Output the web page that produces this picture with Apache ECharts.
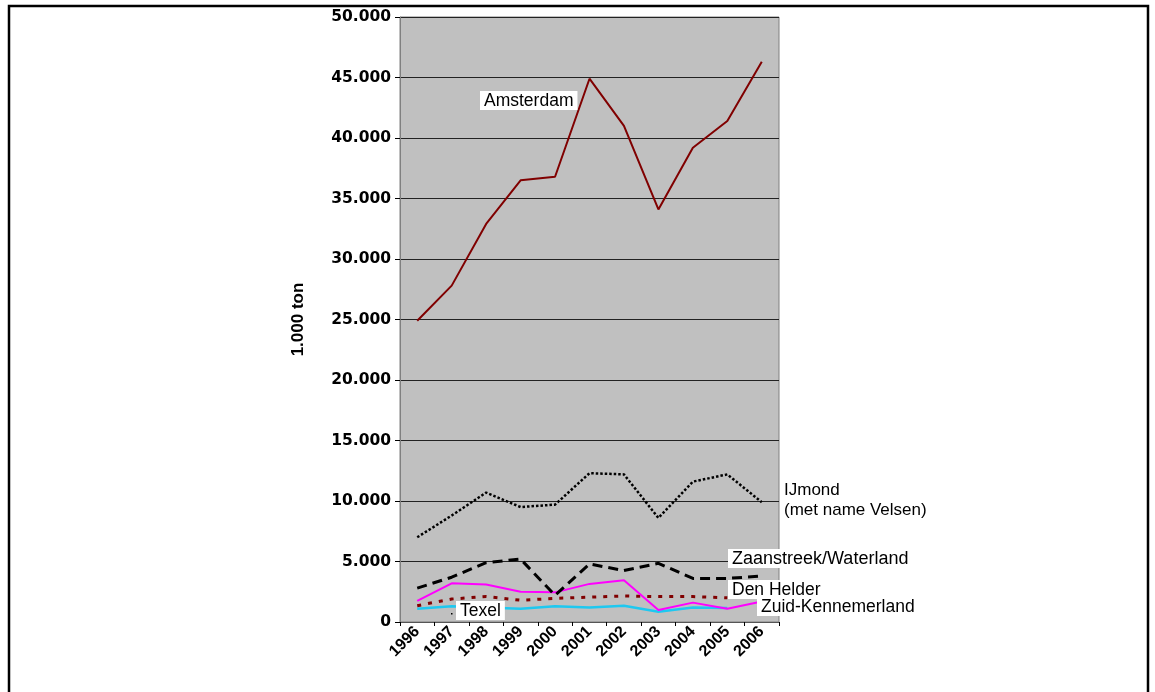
<!DOCTYPE html>
<html>
<head>
<meta charset="utf-8">
<script src="https://cdn.jsdelivr.net/npm/echarts@6/dist/echarts.min.js"></script>
<style>
  html, body { margin: 0; padding: 0; background: #fff; }
  #chart { width: 1155px; height: 692px; }
</style>
</head>
<body>
<div id="chart"></div>
<script>
// Overslag per haven, 1.000 ton
const years = ['1996', '1997', '1998', '1999', '2000', '2001', '2002', '2003', '2004', '2005', '2006'];

const amsterdam   = [24900, 27800, 32900, 36500, 36800, 44900, 41000, 34100, 39200, 41400, 46300];
const ijmond      = [7000, 8800, 10700, 9500, 9700, 12300, 12200, 8600, 11600, 12200, 9900];
const zaanstreek  = [2800, 3700, 4900, 5200, 2200, 4800, 4250, 4850, 3600, 3600, 3800];
const denHelder   = [1350, 1900, 2100, 1800, 1950, 2050, 2150, 2100, 2100, 2000, null];
const zuidKennem  = [1750, 3200, 3100, 2500, 2450, 3150, 3450, 1000, 1600, 1100, 1700];
const texel       = [1100, 1300, 1200, 1100, 1300, 1200, 1350, 850, 1200, 1150, null];

const yTicks = { min: 0, max: 50000, step: 5000 };

function fmtThousands(v) {
  return v === 0 ? '0' : String(v).replace(/\B(?=(\d{3})+(?!\d))/g, '.');
}

const chart = echarts.init(document.getElementById('chart'), null, { renderer: 'canvas' });

const labelFont = 'Liberation Sans, Arial, sans-serif';

function boxLabel(text, x, y, size) {
  return {
    type: 'text', left: x, top: y, z: 100,
    style: {
      text: text, fill: '#000', font: (size || 17.5) + 'px ' + labelFont,
      backgroundColor: '#fff', padding: [1, 4, 0, 4]
    }
  };
}

chart.setOption({
  animation: false,
  backgroundColor: '#fff',
  grid: {
    left: 400, right: 376, top: 17, bottom: 70,
    show: true, backgroundColor: '#c0c0c0', borderColor: '#808080', borderWidth: 1
  },
  xAxis: {
    type: 'category',
    data: years,
    boundaryGap: true,
    axisLine: { lineStyle: { color: '#555', width: 1 } },
    axisTick: { show: true, interval: 0, length: 4, lineStyle: { color: '#000' } },
    axisLabel: {
      interval: 0, rotate: 45, margin: 7,
      fontFamily: labelFont, fontWeight: 'bold', fontSize: 16, color: '#000'
    }
  },
  yAxis: {
    type: 'value',
    min: yTicks.min, max: yTicks.max, interval: yTicks.step,
    name: '1.000 ton',
    nameLocation: 'middle',
    nameGap: 93,
    nameRotate: 90,
    nameTextStyle: { fontFamily: labelFont, fontWeight: 'bold', fontSize: 17, color: '#000' },
    axisLine: { show: true, lineStyle: { color: '#808080', width: 1 } },
    axisTick: { show: true, length: 5, lineStyle: { color: '#000' } },
    axisLabel: {
      formatter: fmtThousands, margin: 9,
      fontFamily: 'DejaVu Sans, sans-serif', fontWeight: 'bold', fontSize: 15.5, color: '#000'
    },
    splitLine: { show: true, lineStyle: { color: '#222', width: 1 } }
  },
  series: [
    { name: 'Texel', type: 'line', data: texel, symbol: 'none',
      lineStyle: { color: '#1ec8f0', width: 2.5 } },
    { name: 'Den Helder', type: 'line', data: denHelder, symbol: 'none',
      lineStyle: { color: '#800000', width: 3, type: [4, 7] } },
    { name: 'Zuid-Kennemerland', type: 'line', data: zuidKennem, symbol: 'none',
      lineStyle: { color: '#ff00ff', width: 2 } },
    { name: 'Zaanstreek/Waterland', type: 'line', data: zaanstreek, symbol: 'none',
      lineStyle: { color: '#000', width: 3, type: [10, 6] } },
    { name: 'IJmond', type: 'line', data: ijmond, symbol: 'none',
      lineStyle: { color: '#000', width: 2.5, type: [2.5, 2] } },
    { name: 'Amsterdam', type: 'line', data: amsterdam, symbol: 'none',
      lineStyle: { color: '#800000', width: 2 } }
  ],
  graphic: [
    // outer frame
    { type: 'rect', z: 100, shape: { x: 9, y: 6, width: 1139, height: 700 },
      style: { fill: 'none', stroke: '#000', lineWidth: 2.5 } },
    boxLabel('Amsterdam', 480, 91),
    boxLabel('Zaanstreek/Waterland', 728, 549, 18),
    boxLabel('Den Helder', 728, 580),
    boxLabel('Zuid-Kennemerland', 757, 597),
    boxLabel('Texel', 456, 601),
    { type: 'rect', z: 101, shape: { x: 451, y: 613, width: 1.5, height: 1.5 },
      style: { fill: '#000' } },
    { type: 'text', left: 784, top: 480, z: 100,
      style: { text: 'IJmond\n(met name Velsen)', fill: '#000', font: '17px ' + labelFont, lineHeight: 20 } }
  ]
});
</script>
</body>
</html>
